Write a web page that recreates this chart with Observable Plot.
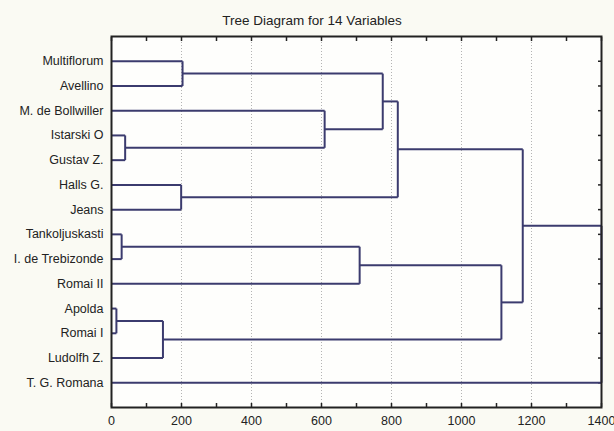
<!DOCTYPE html>
<html>
<head>
<meta charset="utf-8">
<script src="https://cdn.jsdelivr.net/npm/d3@7"></script>
<script src="https://cdn.jsdelivr.net/npm/@observablehq/plot@0.6"></script>
<style>
  html, body { margin: 0; padding: 0; background: #fafaf3; }
  #wrap { position: relative; width: 614px; height: 431px; }
  #title { position: absolute; top: 13px; left: 0; width: 624px; text-align: center;
           font: 13.5px "Liberation Sans", Arial, sans-serif; color: #222; }
  svg { font-family: "Liberation Sans", Arial, sans-serif; }
</style>
</head>
<body>
<div id="wrap">
  <div id="title">Tree Diagram for 14 Variables</div>
  <div id="chart"></div>
</div>
<script>
// Leaves, top to bottom
const leaves = ["Multiflorum", "Avellino", "M. de Bollwiller", "Istarski O", "Gustav Z.",
  "Halls G.", "Jeans", "Tankoljuskasti", "I. de Trebizonde", "Romai II",
  "Apolda", "Romai I", "Ludolfh Z.", "T. G. Romana"];

// Merges (linkage distance) in order; children are leaf names or earlier cluster ids
const mergeIds    = ["C1", "C2", "C3", "C4", "C5", "C6", "C7", "C8", "C9", "C10", "C11", "C12", "C13"];
const mergeLeft   = ["Multiflorum", "Istarski O", "Halls G.", "Tankoljuskasti", "Apolda", "C5", "M. de Bollwiller", "C1", "C8", "C4", "C10", "C9", "C12"];
const mergeRight  = ["Avellino", "Gustav Z.", "Jeans", "I. de Trebizonde", "Romai I", "Ludolfh Z.", "C2", "C7", "C3", "Romai II", "C6", "C11", "T. G. Romana"];
const mergeHeight = [203, 39, 199, 29, 14, 147, 609, 775, 818, 709, 1114, 1175, 1400];

const xLabelTicks = [0, 200, 400, 600, 800, 1000, 1200, 1400];
const xMinorTicks = [0, 100, 200, 300, 400, 500, 600, 700, 800, 900, 1000, 1100, 1200, 1300, 1400];
const gridTicks = [200, 400, 600, 800, 1000, 1200];

// Build node positions
const node = new Map();
leaves.forEach((name, i) => node.set(name, {h: 0, y: i}));
const segs = [];
mergeIds.forEach((id, k) => {
  const a = node.get(mergeLeft[k]), b = node.get(mergeRight[k]), h = mergeHeight[k];
  segs.push({x1: a.h, x2: h, y1: a.y, y2: a.y});
  segs.push({x1: b.h, x2: h, y1: b.y, y2: b.y});
  segs.push({x1: h, x2: h, y1: a.y, y2: b.y});
  node.set(id, {h, y: (a.y + b.y) / 2});
});

const idx = leaves.map((d, i) => i);

const plot = Plot.plot({
  width: 614,
  height: 431,
  marginTop: 36,
  marginLeft: 111,
  marginRight: 13,
  marginBottom: 24,
  style: {background: "transparent", fontSize: "12px", color: "#222"},
  x: {domain: [0, 1400]},
  y: {domain: [14, -1]},
  marks: [
    Plot.frame({fill: "#fefefc", stroke: null}),
    Plot.gridX(gridTicks, {stroke: "#b4b4b4", strokeOpacity: 1, strokeDasharray: "1,2"}),
    Plot.axisX({anchor: "bottom", ticks: xLabelTicks, tickSize: 0, tickPadding: 9, tickFormat: d => String(d), label: null, fontSize: 12.5}),
    Plot.axisX({anchor: "bottom", ticks: xMinorTicks, tickSize: -4, tickFormat: () => "", label: null, strokeWidth: 1.5}),
    Plot.axisX({anchor: "top", ticks: xMinorTicks, tickSize: -4, tickFormat: () => "", label: null, strokeWidth: 1.5}),
    Plot.axisY({anchor: "left", ticks: idx, tickSize: 0, tickPadding: 8, tickFormat: i => leaves[i], label: null, fontSize: 12.5}),
    Plot.axisY({anchor: "right", ticks: idx, tickSize: -4, tickFormat: () => "", label: null, strokeWidth: 1.5}),
    Plot.link(segs, {x1: "x1", y1: "y1", x2: "x2", y2: "y2", stroke: "#3b3b6e", strokeWidth: 2}),
    Plot.frame({stroke: "#222", strokeWidth: 2})
  ]
});
document.getElementById("chart").appendChild(plot);
</script>
</body>
</html>
